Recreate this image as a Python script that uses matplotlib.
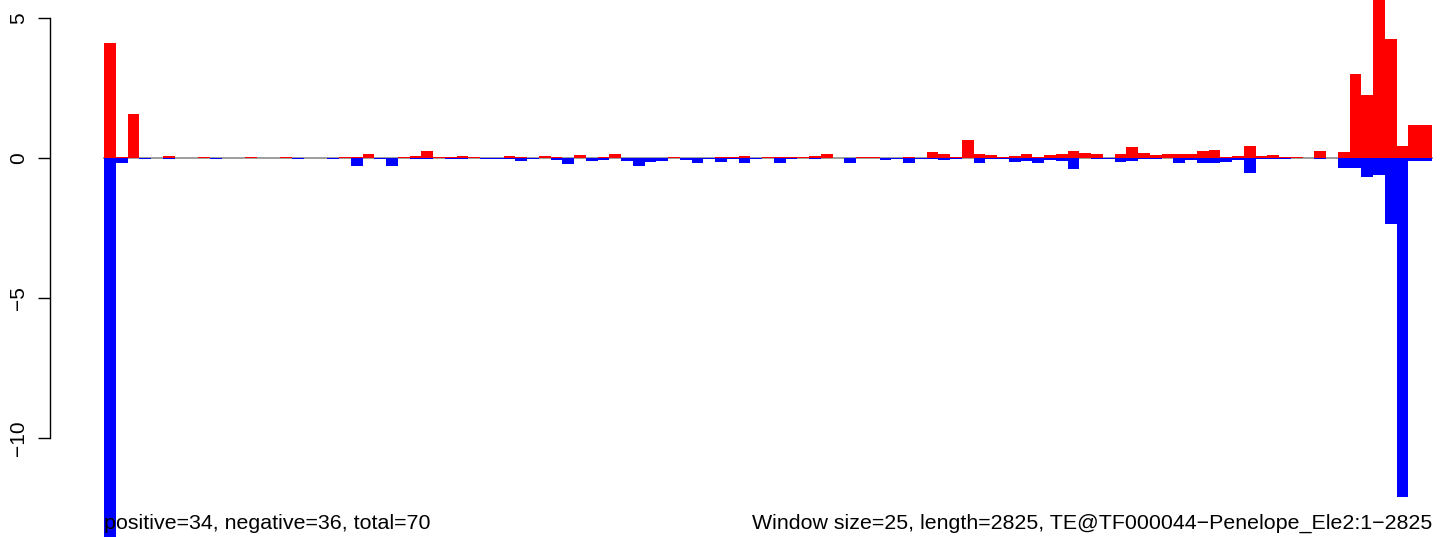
import matplotlib
matplotlib.use("Agg")
import matplotlib.pyplot as plt
import numpy as np

plt.rcParams['font.family'] = ['Liberation Sans', 'DejaVu Sans']

# Window values (window size 25, length 2825 -> 113 windows)
positive = [4.1, 0.03, 1.57, 0, 0, 0.07, 0, 0, 0.03, 0,
            0, 0, 0.03, 0, 0, 0.04, 0, 0, 0, 0,
            0.03, 0.03, 0.14, 0, 0, 0.03, 0.07, 0.25, 0.03, 0.03,
            0.07, 0.03, 0, 0, 0.07, 0.03, 0, 0.07, 0.03, 0,
            0.11, 0, 0.03, 0.14, 0, 0, 0, 0, 0.03, 0,
            0, 0, 0.03, 0.03, 0.07, 0, 0.03, 0.03, 0.03, 0.03,
            0.07, 0.14, 0, 0, 0.03, 0.03, 0, 0, 0.03, 0,
            0.21, 0.14, 0.03, 0.64, 0.14, 0.11, 0.04, 0.07, 0.14, 0.03,
            0.11, 0.14, 0.25, 0.18, 0.14, 0, 0.14, 0.39, 0.18, 0.11,
            0.14, 0.14, 0.14, 0.25, 0.29, 0.03, 0.07, 0.43, 0.07, 0.1,
            0.03, 0.03, 0, 0.25, 0, 0.21, 3.0, 2.25, 6.0, 4.25,
            0.43, 1.18, 1.18]
negative = [-14.0, -0.18, 0, -0.03, 0, -0.03, 0, 0, 0, -0.03,
            0, 0, 0, 0, 0, 0, -0.03, 0, 0, -0.03,
            0, -0.29, 0, -0.03, -0.29, 0, -0.03, -0.03, 0, -0.03,
            -0.03, 0, -0.03, -0.03, -0.03, -0.11, -0.03, 0, -0.07, -0.21,
            0, -0.11, -0.07, 0, -0.11, -0.29, -0.14, -0.11, 0, -0.07,
            -0.18, -0.03, -0.14, -0.03, -0.18, -0.03, 0, -0.18, -0.03, 0,
            -0.03, 0, 0, -0.18, 0, 0, -0.07, -0.03, -0.18, -0.03,
            -0.03, -0.07, -0.03, 0, -0.18, -0.05, -0.05, -0.14, -0.1, -0.18,
            -0.07, -0.1, -0.39, 0, -0.03, -0.03, -0.14, -0.1, -0.03, -0.03,
            0, -0.18, -0.07, -0.18, -0.18, -0.14, -0.07, -0.54, -0.04, -0.04,
            -0.03, 0, 0, -0.03, 0, -0.36, -0.36, -0.68, -0.61, -2.35,
            -12.1, -0.1, -0.1]
yticks = [-10, -5, 0, 5]
left_label = "positive=34, negative=36, total=70"
right_label = "Window size=25, length=2825, TE@TF000044\u2212Penelope_Ele2:1\u22122825"

W, H = 1441, 537
fig = plt.figure(figsize=(W / 100, H / 100), dpi=100)
ax = fig.add_axes([0, 0, 1, 1])

n = len(positive)
x = np.arange(n)
pxw = 11.75  # px per bar
x0px = 104
ax.set_xlim(-0.5 - x0px / pxw, -0.5 + (W - x0px) / pxw)
zero_px = 158
ppu = 28.0
ax.set_ylim(-(H - zero_px) / ppu, zero_px / ppu)

ax.plot([-0.5, n - 0.5], [0, 0], color='#8c8c8c', lw=1.2, zorder=1)
ax.bar(x, positive, width=1.0, color='#ff0000', linewidth=0, zorder=2)
ax.bar(x, negative, width=1.0, color='#0000ff', linewidth=0, zorder=2)

for s in ['top', 'right', 'bottom']:
    ax.spines[s].set_visible(False)
axis_x = -0.5 - (x0px - 50) / pxw
ax.spines['left'].set_position(('data', axis_x))
ax.spines['left'].set_bounds(-10, 5)
ax.spines['left'].set_linewidth(1.0)
ax.set_xticks([])
ax.set_yticks(yticks)
ax.set_yticklabels([str(t).replace('-', '\u2212') for t in yticks])
ax.tick_params(axis='y', length=8.6, width=1.0, pad=7, labelsize=15,
               labelrotation=90)
for lab in ax.get_yticklabels():
    lab.set_va('center')

fig.text(x0px / W, 1 - 529 / H, left_label, ha='left', va='baseline', fontsize=15.4)
fig.text(1432 / W, 1 - 529 / H, right_label, ha='right', va='baseline', fontsize=15.4)

fig.savefig('out.png', dpi=100)
